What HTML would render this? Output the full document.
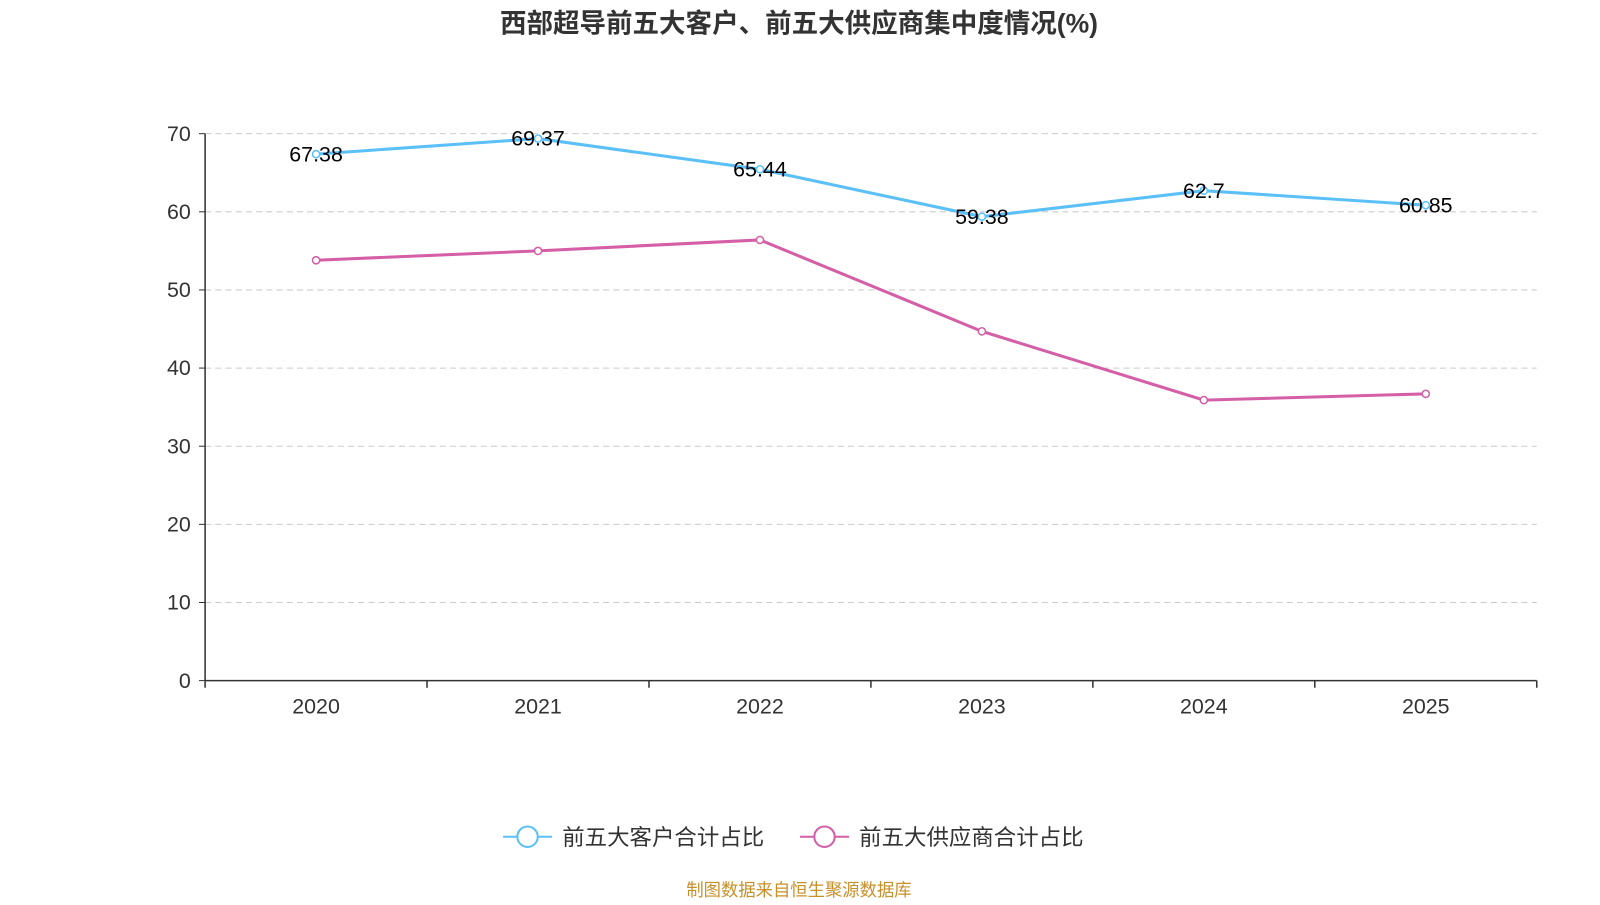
<!DOCTYPE html>
<html><head><meta charset="utf-8">
<style>
body{margin:0;background:#fff;width:1600px;height:900px;overflow:hidden;font-family:"Liberation Sans","Noto Sans CJK SC",sans-serif;}
</style></head>
<body>
<svg id="chart" width="1600" height="900" viewBox="0 0 1568 882" xmlns="http://www.w3.org/2000/svg" font-family="'Liberation Sans','Noto Sans CJK SC',sans-serif">
<text x="783" y="32" text-anchor="middle" font-size="26" font-weight="bold" fill="#333">西部超导前五大客户、前五大供应商集中度情况(%)</text>
<g id="grid"></g><g id="axes"></g><g id="series"></g>
<g>
<g>
<line x1="493" y1="820" x2="541" y2="820" stroke="#5bc0f8" stroke-width="2"/>
<circle cx="517" cy="820" r="10" fill="#fff" stroke="#5bc0f8" stroke-width="2"/>
<text x="551" y="828" font-size="22" fill="#333">前五大客户合计占比</text></g>
<g>
<line x1="784" y1="820" x2="832" y2="820" stroke="#d45fa6" stroke-width="2"/>
<circle cx="808" cy="820" r="10" fill="#fff" stroke="#d45fa6" stroke-width="2"/>
<text x="842" y="828" font-size="22" fill="#333">前五大供应商合计占比</text></g>
</g>
<text x="783" y="878" text-anchor="middle" font-size="17" fill="#c8902a">制图数据来自恒生聚源数据库</text>
</svg>
<script>
const categories=["2020","2021","2022","2023","2024","2025"];
const customers=[67.38,69.37,65.44,59.38,62.7,60.85];
const suppliers=[53.8,55.0,56.4,44.7,35.9,36.7];
const yTicks=[0,10,20,30,40,50,60,70];
const NS="http://www.w3.org/2000/svg";
const x0=201,x1=1506,yBase=667,yTop=131,yMax=70;
const band=(x1-x0)/categories.length;
const xs=i=>x0+band*(i+0.5);
const ys=v=>yBase-(v/yMax)*(yBase-yTop);
function mk(tag,attrs,parent){const e=document.createElementNS(NS,tag);for(const k in attrs)e.setAttribute(k,attrs[k]);parent.appendChild(e);return e;}
const grid=document.getElementById('grid'),axes=document.getElementById('axes'),ser=document.getElementById('series');
yTicks.forEach(t=>{
  const y=ys(t);
  if(t>0){const g=mk('line',{x1:x0,x2:x1,y1:y,y2:y,stroke:'#ccc','stroke-dasharray':'6,4'},grid);
  
  }
  mk('line',{x1:x0-6,x2:x0,y1:y,y2:y,stroke:'#333'},axes);
  const l=mk('text',{x:x0-14,y:y+7,'text-anchor':'end','font-size':21,fill:'#333'},axes);l.textContent=t;
  
  
});
mk('line',{x1:x0,x2:x0,y1:yTop,y2:yBase,stroke:'#333','stroke-width':1.5},axes);
mk('line',{x1:x0,x2:x1,y1:yBase,y2:yBase,stroke:'#333','stroke-width':1.5},axes);
for(let i=0;i<=categories.length;i++){const x=x0+band*i;mk('line',{x1:x,x2:x,y1:yBase,y2:yBase+7,stroke:'#333','stroke-width':1.5},axes);}
categories.forEach((c,i)=>{const t=mk('text',{x:xs(i),y:yBase+32,'text-anchor':'middle','font-size':21,fill:'#333'},axes);t.textContent=c;
  
  });
function drawSeries(vals,color,name,labels){
  const pts=vals.map((v,i)=>xs(i)+','+ys(v)).join(' ');
  const p=mk('polyline',{points:pts,fill:'none',stroke:color,'stroke-width':3},ser);
  
  
  vals.forEach((v,i)=>{
    const c=mk('circle',{cx:xs(i),cy:ys(v),r:3.5,fill:'#fff',stroke:color,'stroke-width':1.5},ser);
    
    
    if(labels){const t=mk('text',{x:xs(i),y:ys(v)+7,'text-anchor':'middle','font-size':21,fill:'#000'},ser);t.textContent=v;
      
      }
  });
}
drawSeries(suppliers,'#d45fa6','suppliers',false);
drawSeries(customers,'#5bc0f8','customers',true);
</script>
</body></html>
